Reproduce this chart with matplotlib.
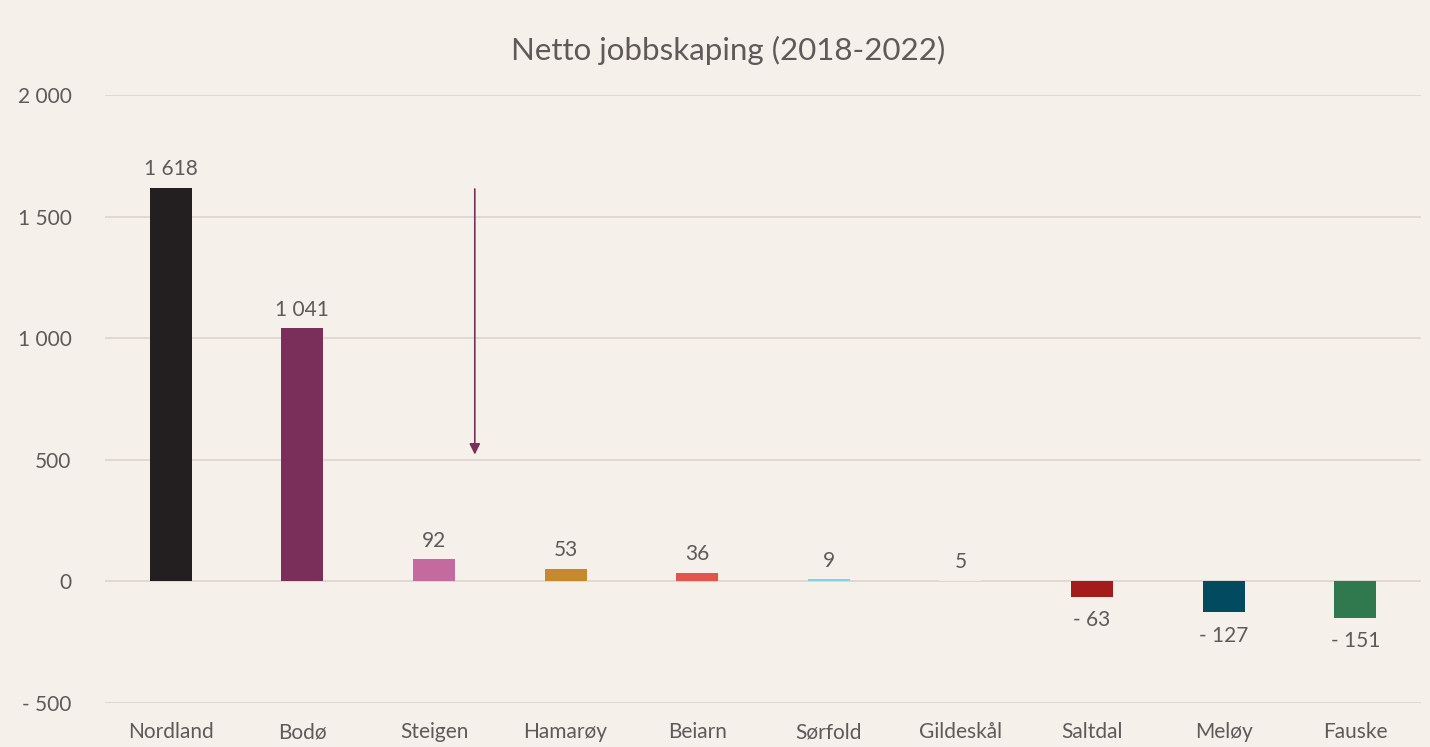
import numpy as np
import matplotlib.pyplot as plt

plt.rcParams['font.family'] = ['Lato', 'DejaVu Sans']

kommuner = ['Nordland', 'Bodø', 'Steigen', 'Hamarøy', 'Beiarn',
            'Sørfold', 'Gildeskål', 'Saltdal', 'Meløy', 'Fauske']
verdier = [1618, 1041, 92, 53, 36, 9, 5, -63, -127, -151]
farger = ['#231f20', '#7a2f5b', '#c46aa1', '#c58a2b', '#e4544c',
          '#7fd3e3', '#f4ece4', '#a51b1b', '#024a5f', '#30784d']

bg = '#f6f0ea'
txt = '#5f5a5a'

def fmt(v):
    s = '{:,}'.format(abs(v)).replace(',', ' ')
    return ('- ' + s) if v < 0 else s

fig = plt.figure(figsize=(14.3, 7.47), dpi=100, facecolor=bg)
ax = fig.add_axes([105/1430, 1 - 703/747, 1316/1430, (703-95)/747])
ax.set_facecolor(bg)

x = np.arange(len(kommuner))
ax.bar(x, verdier, width=0.32, color=farger, zorder=3)

for xi, v in zip(x, verdier):
    if v >= 0:
        ax.text(xi, v + 35, fmt(v), ha='center', va='bottom', fontsize=15, color=txt)
    else:
        ax.text(xi, v - 55, fmt(v), ha='center', va='top', fontsize=15, color=txt)

ax.set_xlim(-0.5, 9.5)
ax.set_ylim(-500, 2000)
ax.set_yticks([-500, 0, 500, 1000, 1500, 2000])
ax.set_yticklabels([fmt(t) for t in [-500, 0, 500, 1000, 1500, 2000]])
ax.grid(axis='y', color='#ddd6d2', linewidth=1.3, zorder=0)
ax.set_xticks(x)
ax.set_xticklabels(kommuner)
ax.tick_params(length=0, labelsize=15, colors=txt)
ax.tick_params(axis='y', pad=24)
ax.tick_params(axis='x', pad=14)
for s in ax.spines.values():
    s.set_visible(False)

# pil mot Steigen
ax.annotate('', xy=(2.31, 510), xytext=(2.31, 1625),
            arrowprops=dict(arrowstyle='-|>', color='#7a2f5b', lw=1.2,
                            mutation_scale=16))

fig.text(728/1430, 1 - 50/747, 'Netto jobbskaping (2018-2022)', ha='center', va='center',
         fontsize=22.5, color=txt)

fig.savefig('out.png', dpi=100, facecolor=bg)
